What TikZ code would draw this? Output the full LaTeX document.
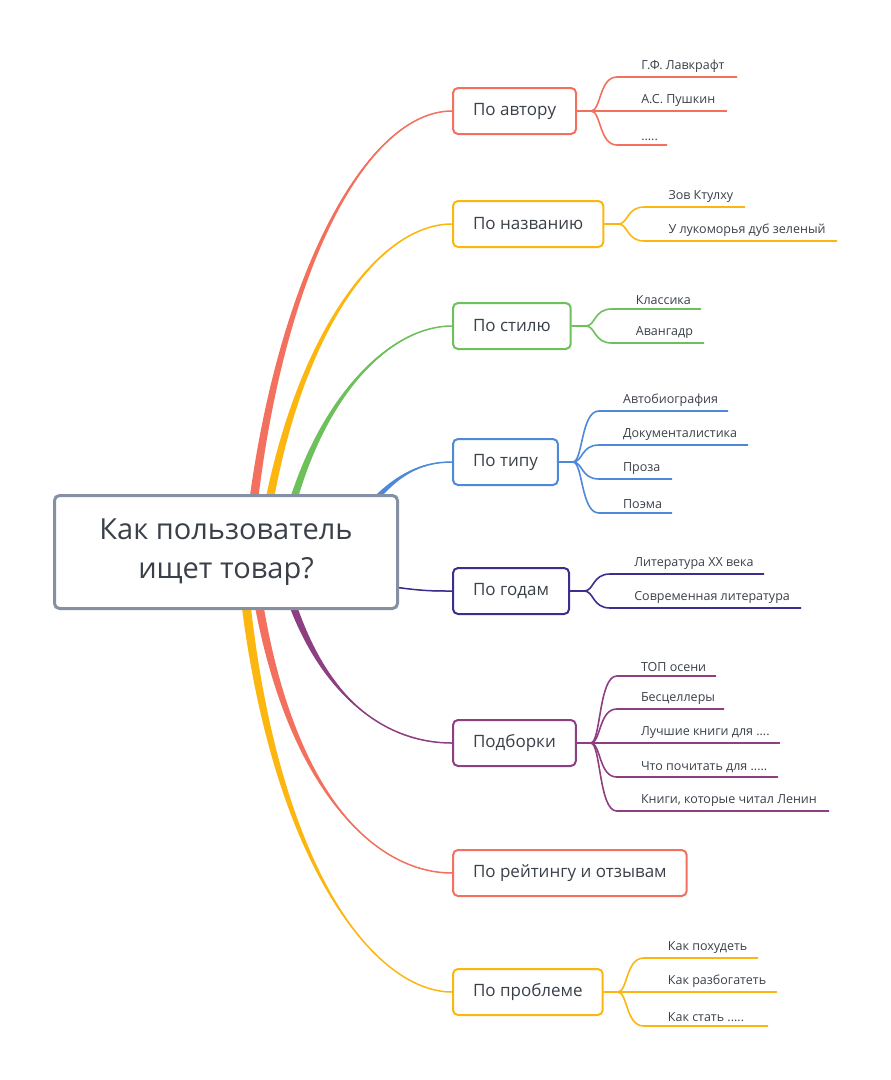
\documentclass[tikz,border=0pt]{standalone}
\usepackage{fontspec}
\setmainfont{Open Sans}
\usetikzlibrary{calc}

\definecolor{cred}{HTML}{F4705E}
\definecolor{corange}{HTML}{FBB710}
\definecolor{cgreen}{HTML}{6DC05A}
\definecolor{cblue}{HTML}{4E88D9}
\definecolor{cyears}{HTML}{3B2E8E}
\definecolor{cpurple}{HTML}{8D3F82}
\definecolor{cgray}{HTML}{8590A2}
\definecolor{ctext}{HTML}{3A4049}

\tikzset{
    root/.style={draw=cgray, line width=3pt, rounded corners=5pt, fill=white,
        minimum width=343pt, minimum height=113pt, align=center,
        text=ctext, font=\fontsize{29}{39}\selectfont},
    topic/.style={draw=#1, line width=2pt, rounded corners=5pt, fill=white,
        minimum height=46pt, anchor=west, inner xsep=20pt,
        text=ctext, font=\fontsize{17}{19}\selectfont},
    leaf/.style={anchor=south west, inner sep=4pt, text=ctext,
        font=\fontsize{12.5}{14}\selectfont},
    leafline/.style={draw=#1, line width=1.6pt},
}

% tapered curve from the root to a topic
\newcommand{\trunk}[5]{%
    \fill[#1] ($(#2)+(-5,0)$) .. controls ($(#3)+(-3,0)$) and ($(#4)+(0,-1)$) .. (#5)
        .. controls ($(#4)+(0,1)$) and ($(#3)+(3,0)$) .. ($(#2)+(5,0)$) -- cycle;
    \draw[#1, line width=1.5pt] (#2) .. controls (#3) and (#4) .. (#5);
}

% leaves to the right of a topic: colour, topic name, list of y/end/text
\newcommand{\leaves}[3]{%
    \foreach \ly/\lend/\ltxt in {#3} {
        \draw[leafline=#1] (#2.east) -- ++(14,0) coordinate (tmp)
            .. controls ($(tmp)+(10,0)$) and ($(tmp|-0,\ly)+(8,0)$) .. ($(tmp|-0,\ly)+(26,0)$)
            -- (\lend,\ly);
        \node[leaf] at ($(#2.east|-0,\ly)+(60,0)$) {\ltxt};
    }
}

\begin{document}
\begin{tikzpicture}[x=1pt, y=-1pt]
    \useasboundingbox (0,0) rectangle (891,1080);

    % topics
    \node[topic=cred] (author) at (452,111) {По автору};
    \node[topic=corange] (title) at (452,224) {По названию};
    \node[topic=cgreen] (style) at (452,326) {По стилю};
    \node[topic=cblue] (type) at (452,462) {По типу};
    \node[topic=cyears] (years) at (452,591) {По годам};
    \node[topic=cpurple] (sets) at (452,743) {Подборки};
    \node[topic=cred] (rating) at (452,873) {По рейтингу и отзывам};
    \node[topic=corange] (problem) at (452,992) {По проблеме};

    % curves from the root
    \coordinate (sa) at (246,580);
    \coordinate (sb) at (258,580);
    \coordinate (sc) at (278,570);
    \coordinate (sd) at (355,525);
    \coordinate (se) at (380,585);
    \coordinate (sf) at (275,540);
    \coordinate (sg) at (250,540);
    \coordinate (sh) at (240,540);
    \trunk{cred}{sa}{265,300}{360,111}{author.west}
    \trunk{corange}{sb}{280,360}{370,224}{title.west}
    \trunk{cgreen}{sc}{300,420}{380,326}{style.west}
    \trunk{cblue}{sd}{390,475}{420,462}{type.west}
    \trunk{cyears}{se}{420,591}{430,591}{years.west}
    \trunk{cpurple}{sf}{305,690}{380,743}{sets.west}
    \trunk{cred}{sg}{275,780}{370,873}{rating.west}
    \trunk{corange}{sh}{262,850}{370,992}{problem.west}

    % root
    \node[root] (q) at (226,552) {Как пользователь\\ищет товар?};

    % leaves
    \leaves{cred}{author}{77/737/Г.Ф. Лавкрафт, 111/727/А.С. Пушкин, 145/667/{.....}}
    \leaves{corange}{title}{207/745/Зов Ктулху, 241/837/У лукоморья дуб зеленый}
    \leaves{cgreen}{style}{309/701/Классика, 343/704/Авангадр}
    \leaves{cblue}{type}{411/728/Автобиография, 445/748/Документалистика, 479/672/Проза, 513/672/Поэма}
    \leaves{cyears}{years}{574/764/Литература XX века, 608/801/Современная литература}
    \leaves{cpurple}{sets}{676/716/ТОП осени, 709/724/Бесцеллеры, 743/780/{Лучшие книги для ....}, 777/778/{Что почитать для .....}, 811/829/{Книги, которые читал Ленин}}
    \leaves{corange}{problem}{958/758/Как похудеть, 992/777/Как разбогатеть, 1026/768/{Как стать .....}}
\end{tikzpicture}
\end{document}
